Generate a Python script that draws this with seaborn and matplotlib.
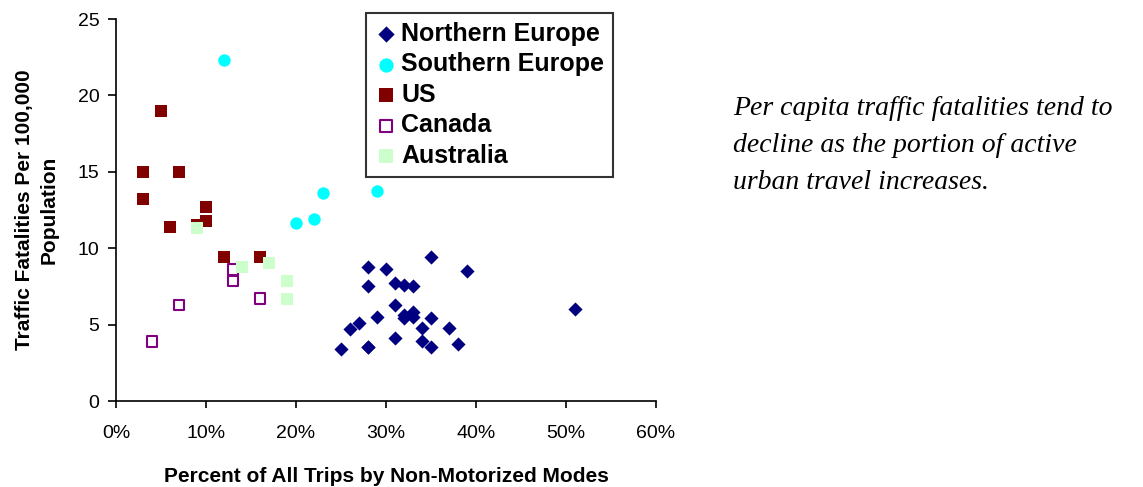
import pandas as pd
import seaborn as sns
import matplotlib.pyplot as plt
from matplotlib.ticker import FuncFormatter

# Data (x = % of trips, y = fatalities per 100,000)
north_x = [25, 26, 27, 28, 28, 28, 28, 29, 30, 31, 31, 31, 32, 32, 32,
           33, 33, 33, 34, 34, 35, 35, 35, 37, 38, 39, 51]
north_y = [3.4, 4.7, 5.1, 8.8, 7.5, 3.55, 3.55, 5.5, 8.65, 7.75, 6.3, 4.1, 7.6, 5.65, 5.4,
           7.5, 5.8, 5.5, 4.75, 3.9, 9.45, 5.4, 3.55, 4.75, 3.7, 8.5, 6.0]
south_x = [12, 20, 22, 23, 29]
south_y = [22.3, 11.65, 11.9, 13.6, 13.75]
us_x = [3, 3, 5, 6, 7, 9, 10, 10, 12, 16]
us_y = [15.0, 13.2, 19.0, 11.4, 15.0, 11.5, 12.7, 11.8, 9.4, 9.4]
canada_x = [4, 7, 13, 13, 16]
canada_y = [3.9, 6.3, 8.6, 7.85, 6.7]
australia_x = [9, 14, 17, 19, 19]
australia_y = [11.3, 8.8, 9.0, 7.85, 6.7]

regions = ["Northern Europe", "Southern Europe", "US", "Canada", "Australia"]

frames = []
for name, xs, ys in zip(regions,
                        [north_x, south_x, us_x, canada_x, australia_x],
                        [north_y, south_y, us_y, canada_y, australia_y]):
    frames.append(pd.DataFrame({"pct": xs, "fatal": ys, "region": name}))
df = pd.concat(frames, ignore_index=True)

# marker styles per region
styles = {
    "Northern Europe": dict(marker="D", s=52, color="#000080", edgecolor="#000080", linewidth=0),
    "Southern Europe": dict(marker="o", s=80, color="#00FFFF", edgecolor="#00FFFF", linewidth=0),
    "US": dict(marker="s", s=80, color="#800000", edgecolor="#800000", linewidth=0),
    "Canada": dict(marker="s", s=55, color="none", edgecolor="#800080", linewidth=1.5),
    "Australia": dict(marker="s", s=80, color="#CCFFCC", edgecolor="#CCFFCC", linewidth=0),
}

sns.set_style("white")
plt.rcParams['font.family'] = ['Liberation Sans', 'DejaVu Sans']
plt.rcParams['text.color'] = 'black'
plt.rcParams['axes.labelcolor'] = 'black'
plt.rcParams['xtick.color'] = 'black'
plt.rcParams['ytick.color'] = 'black'

fig = plt.figure(figsize=(11.43, 4.87), dpi=100)
ax = fig.add_axes([116 / 1143, 1 - 401 / 487, 540 / 1143, 382 / 487])

for name in regions:
    sub = df[df["region"] == name]
    sns.scatterplot(data=sub, x="pct", y="fatal", ax=ax, label=name, **styles[name])

ax.set_xlim(0, 60)
ax.set_ylim(0, 25)
ax.set_xticks(range(0, 61, 10))
ax.set_yticks(range(0, 26, 5))
ax.xaxis.set_major_formatter(FuncFormatter(lambda v, p: f"{int(v)}%"))

for side in ["top", "right"]:
    ax.spines[side].set_visible(False)
for side in ["left", "bottom"]:
    ax.spines[side].set_color("black")
    ax.spines[side].set_linewidth(1.2)

ax.tick_params(axis="x", direction="out", length=5, width=1.2, color="black",
               labelsize=14, pad=12, bottom=True)
ax.tick_params(axis="y", direction="out", length=6, width=1.2, color="black",
               labelsize=14, pad=6, left=True)

ax.set_xlabel("Percent of All Trips by Non-Motorized Modes", fontsize=15,
              fontweight="bold", labelpad=18)
ax.set_ylabel("Traffic Fatalities Per 100,000\nPopulation", fontsize=15,
              fontweight="bold", labelpad=14, linespacing=1.35)

leg = ax.legend(loc="upper left", bbox_to_anchor=(366 / 1143, 1 - 13 / 487),
                bbox_transform=fig.transFigure, frameon=True, fancybox=False,
                prop={"weight": "bold", "size": 18}, handletextpad=0.15,
                handlelength=0.9, labelspacing=0.26, borderpad=0.36,
                borderaxespad=0, markerscale=1.15)
leg.get_frame().set_edgecolor("black")
leg.get_frame().set_linewidth(1.5)

fig.text(733 / 1143, 1 - 96 / 487,
         "Per capita traffic fatalities tend to\ndecline as the portion of active\nurban travel increases.",
         fontsize=20, fontstyle="italic", family=["Liberation Serif", "DejaVu Serif"],
         va="top", ha="left", linespacing=1.62)

fig.savefig("out.png", dpi=100)
